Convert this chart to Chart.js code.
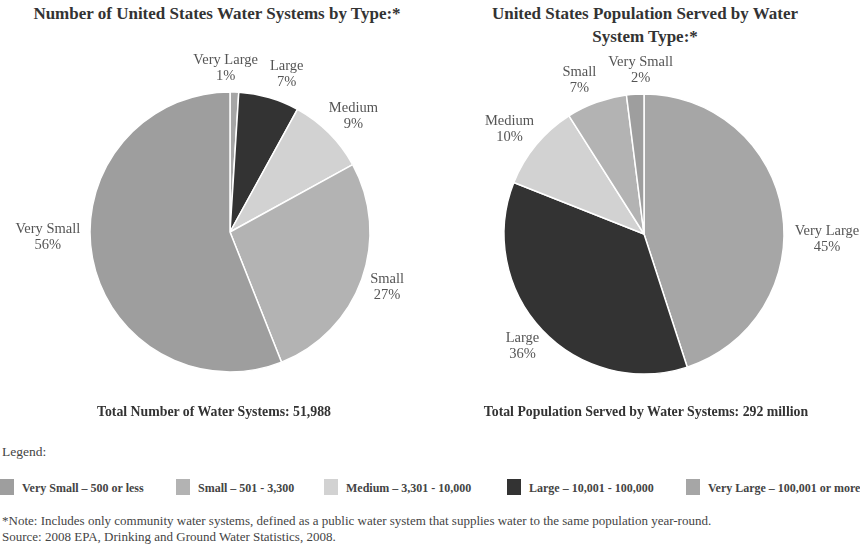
<!DOCTYPE html>
<html>
<head>
<meta charset="utf-8">
<script src="https://cdn.jsdelivr.net/npm/chart.js@4"></script>
<style>
  body { margin: 0; background: #fff; font-family: "Liberation Serif", serif; color: #333; }
  #page { position: relative; width: 860px; height: 556px; overflow: hidden; }
  .abs { position: absolute; }
  .title { font-weight: bold; font-size: 17px; text-align: center; line-height: 23px; color: #333; }
  .total { font-weight: bold; font-size: 13.8px; text-align: center; color: #333; line-height: 16px; }
  .box { position: absolute; width: 14px; height: 16px; }
  .legtext { position: absolute; font-weight: bold; font-size: 12px; color: #444; white-space: nowrap; line-height: 14px; }
  .note { font-size: 13px; color: #444; white-space: nowrap; line-height: 16px; }
</style>
</head>
<body>
<div id="page">
  <div class="abs title" style="left:0; top:2px; width:434px;">Number of United States Water Systems by Type:*</div>
  <div class="abs title" style="left:430px; top:2px; width:430px;">United States Population Served by Water<br>System Type:*</div>

  <div class="abs" style="left:0; top:32px; width:460px; height:400px;"><canvas id="pie-systems"></canvas></div>
  <div class="abs" style="left:428px; top:34px; width:432px; height:400px;"><canvas id="pie-population"></canvas></div>

  <div class="abs total" style="left:0; top:404px; width:428px;">Total Number of Water Systems: 51,988</div>
  <div class="abs total" style="left:430px; top:404px; width:432px;">Total Population Served by Water Systems: 292 million</div>

  <div class="abs" style="left:2px; top:444px; font-size:13.5px; color:#444;">Legend:</div>
  <div id="legend"></div>

  <div class="abs note" style="left:2px; top:513px;">*Note: Includes only community water systems, defined as a public water system that supplies water to the same population year-round.<br>Source: 2008 EPA, Drinking and Ground Water Statistics, 2008.</div>
</div>

<script>
// Categories et valeurs (en %)
const categories = ['Very Large', 'Large', 'Medium', 'Small', 'Very Small'];
const systemsShare = [1, 7, 9, 27, 56];
const populationShare = [45, 36, 10, 7, 2];
const sliceColors = ['#a6a6a6', '#333333', '#d2d2d2', '#b3b3b3', '#9e9e9e'];

// Légende (ordre d'affichage)
const legendOrder = ['Very Small', 'Small', 'Medium', 'Large', 'Very Large'];
const legendRanges = ['500 or less', '501 - 3,300', '3,301 - 10,000', '10,001 - 100,000', '100,001 or more'];
const legendX = [0, 176, 324, 507, 686];

// Étiquettes à l'extérieur de chaque part
const outsideLabels = {
    id: 'outsideLabels',
    afterDatasetsDraw(chart) {
        const ctx = chart.ctx;
        const meta = chart.getDatasetMeta(0);
        const values = chart.data.datasets[0].data;
        ctx.save();
        ctx.font = '14.5px "Liberation Serif"';
        ctx.fillStyle = '#555';
        ctx.textAlign = 'center';
        ctx.textBaseline = 'middle';
        const hh = 14;
        const boxes = meta.data.map((arc, i) => {
            const mid = (arc.startAngle + arc.endAngle) / 2;
            const dx = Math.cos(mid);
            const dy = Math.sin(mid);
            const lines = [chart.data.labels[i], values[i] + '%'];
            const hw = Math.max(...lines.map(l => ctx.measureText(l).width)) / 2;
            let cx, cy;
            if (Math.abs(dx) > 0.95) {
                // part quasi horizontale : étiquette centrée sur le milieu du camembert
                cx = arc.x + dx * (arc.outerRadius + 13 + hw);
                cy = arc.y + 5;
            } else {
                const r = arc.outerRadius + 10;
                cx = arc.x + dx * (r + hw);
                cy = arc.y + dy * (r + hh);
            }
            return { lines, cx, cy, hw };
        });
        // écarter les étiquettes voisines qui se chevauchent
        for (let i = 1; i < boxes.length; i++) {
            const a = boxes[i - 1], b = boxes[i];
            const overlapY = Math.abs(a.cy - b.cy) < 2 * hh;
            const gapX = Math.abs(a.cx - b.cx) - (a.hw + b.hw);
            if (overlapY && gapX < 12) {
                const push = (12 - gapX) / 2;
                const dir = b.cx >= a.cx ? 1 : -1;
                a.cx -= dir * push;
                b.cx += dir * push;
            }
        }
        boxes.forEach(b => {
            ctx.fillText(b.lines[0], b.cx, b.cy - 8);
            ctx.fillText(b.lines[1], b.cx, b.cy + 8);
        });
        ctx.restore();
    }
};

function createPie(canvasId, values) {
    const ctx = document.getElementById(canvasId).getContext('2d');
    return new Chart(ctx, {
        type: 'pie',
        data: {
            labels: categories,
            datasets: [{
                data: values,
                backgroundColor: sliceColors,
                borderColor: '#ffffff',
                borderWidth: 1.5,
                radius: 140
            }]
        },
        options: {
            responsive: true,
            maintainAspectRatio: false,
            animation: false,
            plugins: {
                legend: { display: false },
                tooltip: { enabled: false }
            }
        },
        plugins: [outsideLabels]
    });
}

createPie('pie-systems', systemsShare);
createPie('pie-population', populationShare);

// Légende HTML commune
const legend = document.getElementById('legend');
legendOrder.forEach((name, i) => {
    const box = document.createElement('div');
    box.className = 'box';
    box.style.left = legendX[i] + 'px';
    box.style.top = '479px';
    box.style.background = sliceColors[categories.indexOf(name)];
    legend.appendChild(box);

    const txt = document.createElement('div');
    txt.className = 'legtext';
    txt.style.left = (legendX[i] + 22) + 'px';
    txt.style.top = '481px';
    txt.textContent = name + ' \u2013 ' + legendRanges[i];
    legend.appendChild(txt);
});
</script>
</body>
</html>
